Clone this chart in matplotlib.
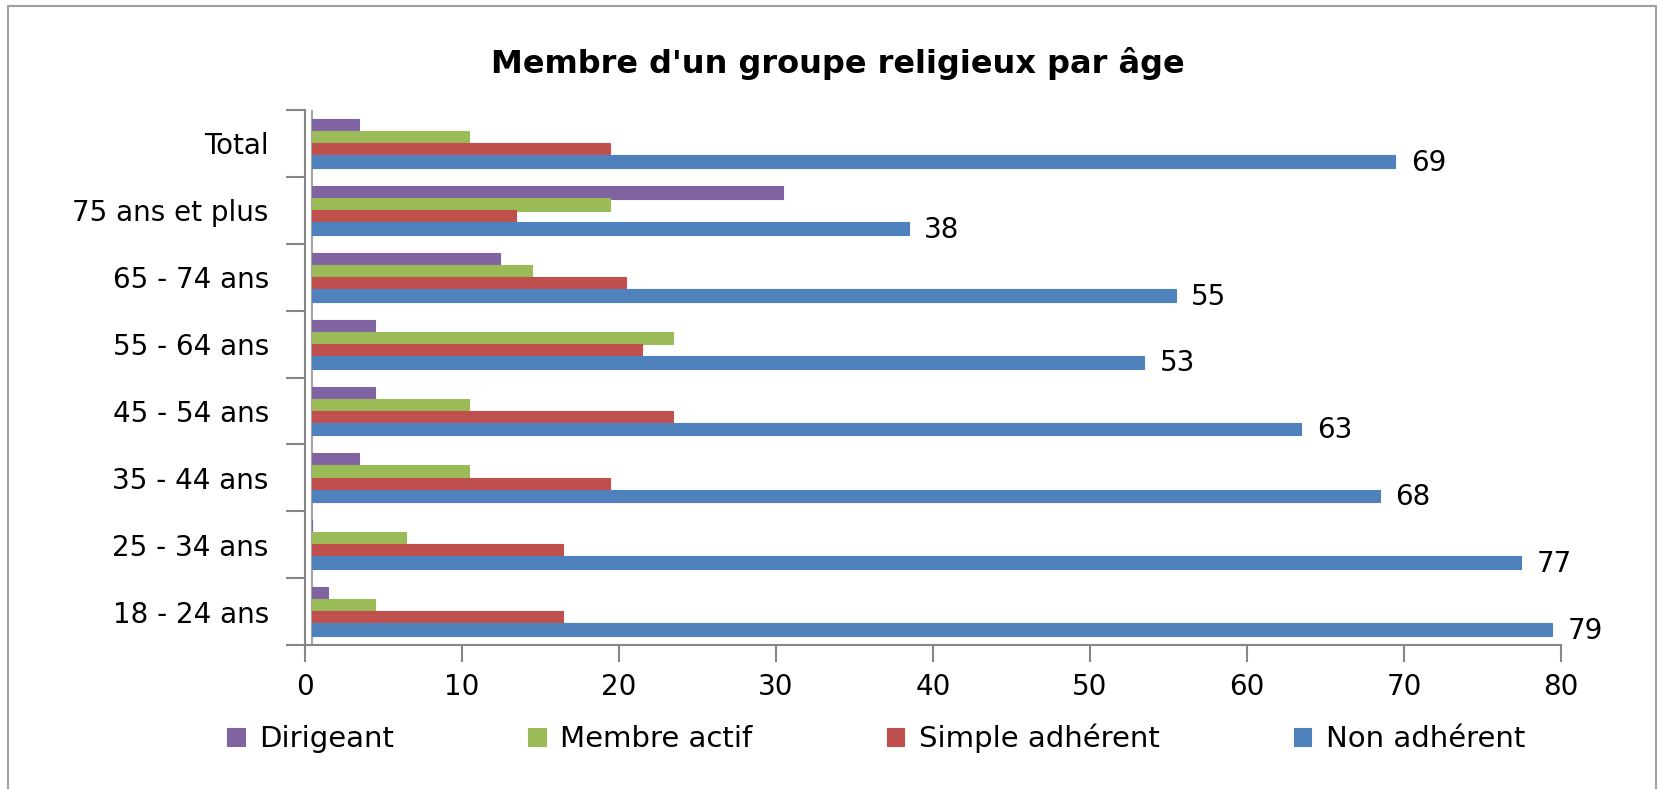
import numpy as np
import matplotlib.pyplot as plt
from matplotlib.patches import Rectangle

categories = ["18 - 24 ans", "25 - 34 ans", "35 - 44 ans", "45 - 54 ans",
              "55 - 64 ans", "65 - 74 ans", "75 ans et plus", "Total"]
dirigeant = [1, 0, 3, 4, 4, 12, 30, 3]
membre_actif = [4, 6, 10, 10, 23, 14, 19, 10]
simple_adherent = [16, 16, 19, 23, 21, 20, 13, 19]
non_adherent = [79, 77, 68, 63, 53, 55, 38, 69]

series = [
    ("Dirigeant", dirigeant, "#8064A2", 0.27),
    ("Membre actif", membre_actif, "#9BBB59", 0.09),
    ("Simple adhérent", simple_adherent, "#C0504D", -0.09),
    ("Non adhérent", non_adherent, "#4F81BD", -0.27),
]

plt.rcParams['font.family'] = ['DejaVu Sans']

fig = plt.figure(figsize=(16.69, 7.89), dpi=100)
ax = fig.add_axes([0.1827, 0.1825, 0.7526, 0.678])

depth = 0.45  # fake 3d wall offset like the excel chart
y = np.arange(len(categories))
handles = []
for name, vals, col, off in series:
    b = ax.barh(y + off, vals, left=depth, height=0.19, color=col,
                edgecolor=col, linewidth=0.8, label=name)
    handles.append(b)

# value labels on the blue bars only
for yi, v in zip(y, non_adherent):
    ax.text(v + depth + 1.0, yi - 0.29, str(v), va='center', ha='left', fontsize=20)

# back wall line
ax.plot([depth, depth], [-0.5, 7.5], color='#A6A6A6', lw=1.5, zorder=0)

ax.set_xlim(0, 80)
ax.set_ylim(-0.5, 7.5)
ax.set_xticks(np.arange(0, 81, 10))
ax.set_yticks(y)
ax.set_yticklabels(categories)
ax.set_yticks(np.arange(-0.5, 8, 1), minor=True)
ax.tick_params(axis='y', which='major', length=0, pad=26, labelsize=20)
ax.tick_params(axis='y', which='minor', length=14, color='#868686', width=1.5)
ax.tick_params(axis='x', length=12, color='#868686', width=1.5, pad=8, labelsize=20)

for s in ['top', 'right']:
    ax.spines[s].set_visible(False)
for s in ['left', 'bottom']:
    ax.spines[s].set_color('#868686')
    ax.spines[s].set_linewidth(1.5)

fig.suptitle("Membre d'un groupe religieux par âge", x=0.502, y=0.94,
             fontsize=23, fontweight='bold')

fig.legend(handles=handles, loc='center', bbox_to_anchor=(0.525, 0.064),
           ncol=4, frameon=False, fontsize=21, handlelength=0.6,
           handleheight=0.6, columnspacing=4.6, handletextpad=0.5)

fig.patches.append(Rectangle((0.005, -0.02), 0.987, 1.012, transform=fig.transFigure,
                             fill=False, edgecolor='#A0A0A0', linewidth=1.5))

fig.savefig("out.png", dpi=100)
